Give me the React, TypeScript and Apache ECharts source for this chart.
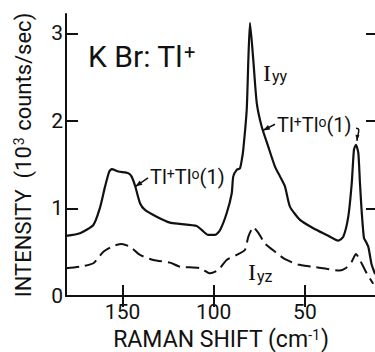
import React, { useEffect, useRef } from "react";
import * as echarts from "echarts";

// Raman shift (cm^-1) and intensity (10^3 counts/sec) for Iyy (solid)
const shiftIyy = [181, 173.3, 166, 162.4, 159.6, 157.3, 155.9, 152.3, 146.8, 145, 143, 140.4, 137.7, 131.3, 124, 118.5, 109.3, 106.6, 103, 99.3, 96.5, 92.9, 90.1, 89.3, 87.4, 85.6, 84.6, 83.8, 81.9, 81, 80.1, 78.3, 76.4, 73.7, 70.1, 66.4, 63.6, 60.9, 58.2, 52.7, 45.4, 38, 31.7, 28.9, 26.2, 24.3, 23.1, 22, 20.7, 19.8, 18.8, 17.6, 16.5, 15.2, 14.3, 13.4, 11.5];
const intIyy = [0.686, 0.717, 0.811, 1.006, 1.249, 1.421, 1.448, 1.421, 1.402, 1.363, 1.25, 1.059, 0.983, 0.906, 0.838, 0.823, 0.8, 0.754, 0.697, 0.697, 0.754, 0.945, 1.174, 1.363, 1.44, 1.459, 1.554, 1.669, 2.126, 2.697, 3.12, 2.697, 2.206, 1.935, 1.706, 1.478, 1.363, 1.249, 1.021, 0.869, 0.774, 0.697, 0.632, 0.678, 0.906, 1.288, 1.669, 1.726, 1.634, 1.291, 0.949, 0.66, 0.62, 0.56, 0.46, 0.36, 0.25];

// Iyz (dashed)
const shiftIyz = [181, 173.3, 166, 160.5, 155.1, 150.5, 145.9, 140.4, 133.1, 124, 118.5, 107.5, 102, 97.5, 92.9, 87.4, 82.9, 81, 78.3, 75.5, 71.9, 66, 60.9, 53.8, 46.3, 38, 31, 27.5, 24.3, 22, 19.8, 16.1, 12.5];
const intIyz = [0.317, 0.335, 0.374, 0.506, 0.571, 0.594, 0.563, 0.469, 0.411, 0.381, 0.335, 0.317, 0.259, 0.297, 0.411, 0.469, 0.526, 0.678, 0.785, 0.72, 0.6, 0.5, 0.42, 0.36, 0.335, 0.31, 0.29, 0.32, 0.392, 0.48, 0.411, 0.259, 0.14];

const xTicks = [50, 100, 150];
const yTicks = [0, 1, 2, 3];
const X_MIN = 11;
const X_MAX = 181;
const Y_MIN = 0;
const Y_MAX = 3.22;

const FONT = "Roboto, 'DejaVu Sans', sans-serif";
const SERIF = "'Liberation Serif', 'DejaVu Serif', serif";
const INK = "#111";

function interp(xs: number[], ys: number[], x: number): number {
  for (let i = 0; i < xs.length - 1; i++) {
    const a = xs[i], b = xs[i + 1];
    if ((x <= a && x >= b) || (x >= a && x <= b)) {
      const t = (x - a) / (b - a);
      return ys[i] + t * (ys[i + 1] - ys[i]);
    }
  }
  return ys[ys.length - 1];
}

function arrowHead(tip: number[], from: number[], len = 7, wid = 5) {
  const dx = tip[0] - from[0], dy = tip[1] - from[1];
  const d = Math.hypot(dx, dy) || 1;
  const ux = dx / d, uy = dy / d;
  const px = -uy, py = ux;
  return {
    type: "polygon",
    shape: {
      points: [
        [tip[0], tip[1]],
        [tip[0] - ux * len + px * wid / 2, tip[1] - uy * len + py * wid / 2],
        [tip[0] - ux * len - px * wid / 2, tip[1] - uy * len - py * wid / 2],
      ],
    },
    style: { fill: INK },
  };
}

export default function App() {
  const ref = useRef<HTMLDivElement>(null);
  useEffect(() => {
    const chart = echarts.init(ref.current!, null, { renderer: "svg" });
    const line = { color: INK, width: 2 };
    const option: any = {
      animation: false,
      backgroundColor: "#fff",
      grid: { left: 66, top: 14, width: 310, height: 282, containLabel: false, outerBoundsMode: "none" },
      xAxis: [
        {
          type: "value", inverse: true, min: X_MIN, max: X_MAX, position: "bottom",
          name: "RAMAN SHIFT (cm{sup|-1})", nameLocation: "middle", nameGap: 32,
          nameTextStyle: {
            fontFamily: FONT, fontSize: 23, color: INK,
            rich: { sup: { fontFamily: FONT, fontSize: 14, color: INK, verticalAlign: "top", padding: [0, 1, 8, 0] } },
          },
          axisLine: { show: true, lineStyle: line },
          axisTick: { show: true, inside: true, length: 11, customValues: xTicks, lineStyle: line },
          axisLabel: { customValues: xTicks, fontFamily: FONT, fontSize: 21, color: INK, margin: 5 },
          splitLine: { show: false },
        },
        {
          type: "value", inverse: true, min: X_MIN, max: X_MAX, position: "top",
          axisLine: { show: true, lineStyle: line },
          axisTick: { show: true, inside: true, length: 11, customValues: xTicks, lineStyle: line },
          axisLabel: { show: false },
          splitLine: { show: false },
        },
      ],
      yAxis: [
        {
          type: "value", min: Y_MIN, max: Y_MAX, position: "left",
          name: "INTENSITY  (10{sup|3} counts/sec)", nameLocation: "middle", nameGap: 32,
          nameTextStyle: {
            fontFamily: FONT, fontSize: 22, color: INK,
            rich: { sup: { fontFamily: FONT, fontSize: 14, color: INK, verticalAlign: "top", padding: [0, 1, 8, 1] } },
          },
          axisLine: { show: true, lineStyle: line },
          axisTick: { show: true, inside: true, length: 12, customValues: yTicks, lineStyle: line },
          axisLabel: { customValues: yTicks, fontFamily: FONT, fontSize: 21, color: INK, margin: 3 },
          splitLine: { show: false },
        },
        {
          type: "value", min: Y_MIN, max: Y_MAX, position: "right",
          axisLine: { show: true, lineStyle: line },
          axisTick: { show: true, inside: true, length: 10, customValues: yTicks, lineStyle: line },
          axisLabel: { show: false },
          splitLine: { show: false },
        },
      ],
      series: [
        {
          name: "Iyy", type: "line", xAxisIndex: 0, yAxisIndex: 0,
          data: shiftIyy.map((x, i) => [x, intIyy[i]]),
          symbol: "none", smooth: 0.2, lineStyle: { color: INK, width: 2.2 },
        },
        {
          name: "Iyz", type: "line", xAxisIndex: 0, yAxisIndex: 0,
          data: shiftIyz.map((x, i) => [x, intIyz[i]]),
          symbol: "none", smooth: 0.2, lineStyle: { color: INK, width: 2, type: [13, 6] },
        },
      ],
    };
    chart.setOption(option);

    const P = (x: number, y: number) => chart.convertToPixel({ seriesIndex: 0 }, [x, y]) as number[];

    // annotation anchors in data space
    const title = P(168.9, 2.73);
    const iyy = P(73.0, 2.55);
    const iyz = P(81.2, 0.27);
    const leftTxt = P(134.9, 1.36);
    const leftTip = P(143, interp(shiftIyy, intIyy, 143));
    const midTxt = P(65.3, 1.95);
    const midTip = P(73, interp(shiftIyy, intIyy, 73));
    const peak = P(22, interp(shiftIyy, intIyy, 22));

    const tlRich = {
      t: { fontFamily: FONT, fontSize: 20, color: INK },
      s: { fontFamily: FONT, fontSize: 14, color: INK, verticalAlign: "top", padding: [0, 0, 6, 0] },
    };
    const txt = (x: number, y: number, text: string, rich: any, font: any) => ({
      type: "text", x, y,
      style: { text, ...font, fill: INK, align: "left", verticalAlign: "middle", textAlign: "left", textVerticalAlign: "middle", rich },
    });

    const leftFrom = [leftTxt[0] - 2, leftTxt[1] + 1];
    const midFrom = [midTxt[0] - 2, midTxt[1] - 1];
    const hookStart = [midTxt[0] + 79, midTxt[1] + 3];
    const hookTip = [peak[0] + 1, peak[1] - 4];

    chart.setOption({
      graphic: [
        txt(title[0], title[1], "{t|K Br: Tl}{s|+}", {
          t: { fontFamily: FONT, fontSize: 30, color: INK },
          s: { fontFamily: FONT, fontSize: 20, color: INK, verticalAlign: "top", padding: [0, 0, 6, 1] },
        }, { fontFamily: FONT, fontSize: 30 }),
        txt(iyy[0], iyy[1], "{i|I}{s|yy}", {
          i: { fontFamily: SERIF, fontSize: 24, color: INK },
          s: { fontFamily: FONT, fontSize: 16, color: INK, verticalAlign: "bottom", padding: [8, 0, 0, 1] },
        }, { fontFamily: SERIF, fontSize: 24 }),
        txt(iyz[0], iyz[1], "{i|I}{s|yz}", {
          i: { fontFamily: SERIF, fontSize: 24, color: INK },
          s: { fontFamily: FONT, fontSize: 16, color: INK, verticalAlign: "bottom", padding: [8, 0, 0, 1] },
        }, { fontFamily: SERIF, fontSize: 24 }),
        txt(leftTxt[0], leftTxt[1], "{t|Tl}{s|+}{t|Tl}{s|o}{t|(1)}", tlRich, { fontFamily: FONT, fontSize: 20 }),
        txt(midTxt[0], midTxt[1], "{t|Tl}{s|+}{t|Tl}{s|o}{t|(1)}", tlRich, { fontFamily: FONT, fontSize: 20 }),
        { type: "line", shape: { x1: leftFrom[0], y1: leftFrom[1], x2: leftTip[0], y2: leftTip[1] }, style: { stroke: INK, lineWidth: 1.5 } },
        arrowHead(leftTip, leftFrom),
        { type: "line", shape: { x1: midFrom[0], y1: midFrom[1], x2: midTip[0], y2: midTip[1] }, style: { stroke: INK, lineWidth: 1.5 } },
        arrowHead(midTip, midFrom),
        {
          type: "bezierCurve",
          shape: { x1: hookStart[0], y1: hookStart[1], cpx1: hookStart[0] + 5, cpy1: hookStart[1], cpx2: hookTip[0] + 1, cpy2: hookTip[1] - 8, x2: hookTip[0], y2: hookTip[1] },
          style: { stroke: INK, lineWidth: 1.5, fill: "none" },
        },
        arrowHead(hookTip, [hookTip[0] + 0.5, hookTip[1] - 6], 6, 4),
      ],
    });

    return () => chart.dispose();
  }, []);
  return <div ref={ref} style={{ position: "fixed", left: 0, top: 0, width: 375, height: 352 }} />;
}
